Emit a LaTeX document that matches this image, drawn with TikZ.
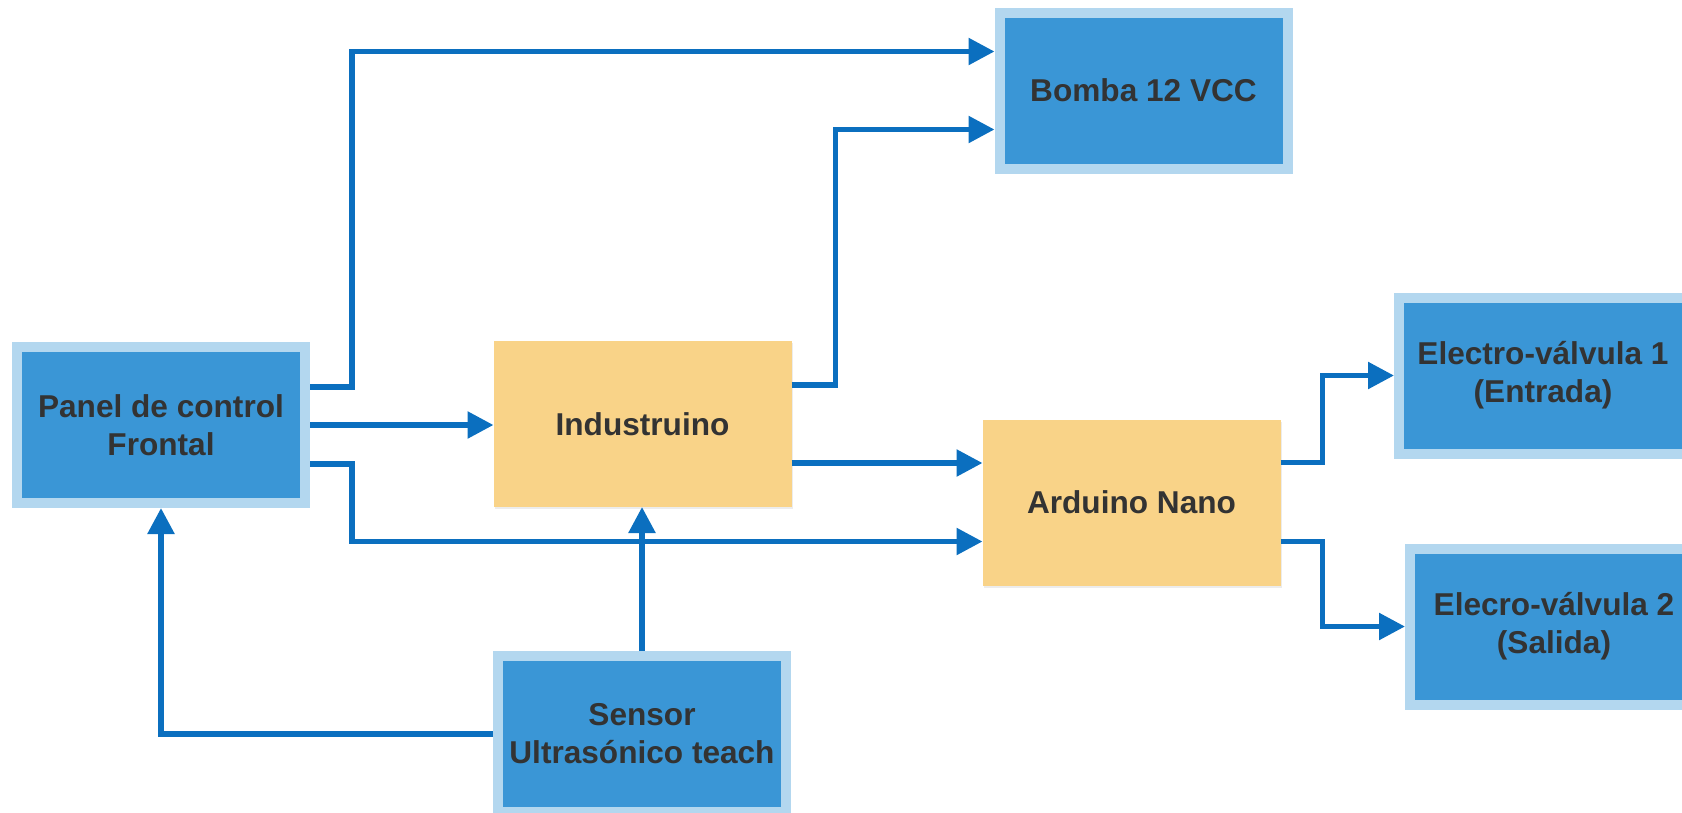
\documentclass[tikz,border=0pt]{standalone}
\usepackage{fontspec}
\setmainfont{Liberation Sans}
\usetikzlibrary{arrows.meta,calc,shadows}
\definecolor{boxblue}{HTML}{3A96D6}
\definecolor{boxedge}{HTML}{B3D7EF}
\definecolor{boxyellow}{HTML}{F9D388}
\definecolor{linkblue}{HTML}{0B6FBF}
\definecolor{txt}{HTML}{333333}
\tikzset{
  bluebox/.style={fill=boxblue, draw=boxedge, line width=10pt, minimum width=288pt, minimum height=156pt,
    inner sep=0pt, align=center, text=txt, font=\fontsize{31.6}{38}\selectfont\bfseries},
  yellowbox/.style={fill=boxyellow, minimum width=298pt, minimum height=166pt, inner sep=0pt, outer sep=0pt,
    align=center, text=txt, font=\fontsize{31.6}{38}\selectfont\bfseries,
    drop shadow={shadow xshift=1pt, shadow yshift=-2pt, opacity=0.15}},
  conn/.style={draw=linkblue, line width=5.5pt, -{Triangle[length=26pt,width=26pt]}}
}
\begin{document}
\begin{tikzpicture}[x=1pt,y=-1pt]
\path[use as bounding box, clip] (0,0) rectangle (1682,812);
\node[bluebox] (panel) at (161,425) {Panel de control\\Frontal};
\node[bluebox] (bomba) at (1143.5,90.5) {Bomba 12 VCC};
\node[bluebox] (e1) at (1543,375.5) {Electro-válvula 1\\(Entrada)};
\node[bluebox] (e2) at (1554,626.5) {Elecro-válvula 2\\(Salida)};
\node[bluebox] (sensor) at (642,734) {Sensor\\Ultrasónico teach};
\node[yellowbox] (indu) at (642.5,424) {Industruino};
\node[yellowbox] (ard) at (1131.5,502.5) {Arduino Nano};

\draw[conn] ($(panel.east)+(0,-38)$) -- ++(42,0) |- ($(bomba.west)+(0,-39)$);
\draw[conn] ($(indu.east)+(0,-39)$) -- ++(44,0) |- ($(bomba.west)+(0,39)$);
\draw[conn] (panel.east) -- (panel.east -| indu.west);
\coordinate (p1) at ($(indu.east)+(0,39)$);
\draw[conn] (p1) -- (p1 -| ard.west);
\draw[conn] ($(panel.east)+(0,39)$) -- ++(42,0) |- ($(ard.west)+(0,39)$);
\draw[conn] ($(ard.east)+(0,-40)$) -- ++(42,0) |- (e1.west);
\draw[conn] ($(ard.east)+(0,39)$) -- ++(42,0) |- (e2.west);
\draw[conn] (sensor.north) -- (sensor.north |- indu.south);
\draw[conn] (sensor.west) -| (panel.south);
\end{tikzpicture}
\end{document}
